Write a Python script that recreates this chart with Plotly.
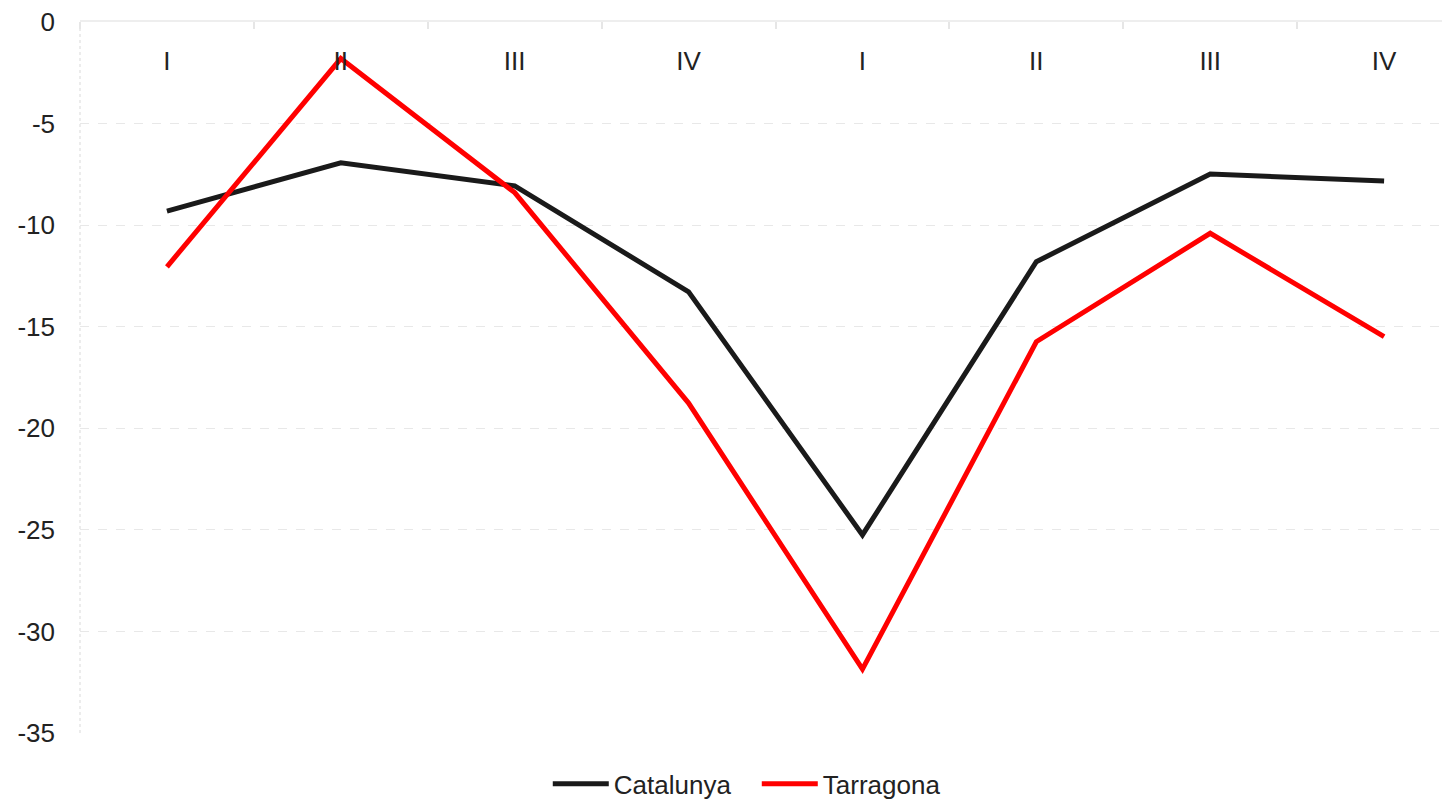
import plotly.graph_objects as go

quarters = ["I", "II", "III", "IV", "I", "II", "III", "IV"]
catalunya = [-9.31, -6.93, -8.07, -13.28, -25.25, -11.80, -7.48, -7.83]
tarragona = [-12.05, -1.80, -8.40, -18.76, -31.86, -15.74, -10.40, -15.49]
y_ticks = [0, -5, -10, -15, -20, -25, -30, -35]
y_tick_text = ["0", "-5", "-10", "-15", "-20", "-25", "-30", "-35"]

xpos = list(range(len(quarters)))
boundaries = [i - 0.5 for i in range(len(quarters) + 1)]
x_range = [-0.5, 7.379]

fig = go.Figure()
fig.add_trace(go.Scatter(x=xpos, y=catalunya, mode="lines", name="Catalunya",
                         line=dict(color="#1a1a1a", width=5)))
fig.add_trace(go.Scatter(x=xpos, y=tarragona, mode="lines", name="Tarragona",
                         line=dict(color="#ff0000", width=5)))

font_family = "Liberation Sans, Arial, sans-serif"
txt = "#222222"

fig.update_layout(
    width=1450, height=810,
    margin=dict(l=72, r=8, t=14, b=85),
    paper_bgcolor="white", plot_bgcolor="white",
    font=dict(family=font_family, size=26, color=txt),
    showlegend=True,
    legend=dict(orientation="h", x=0.494, xanchor="center", y=-0.0714, yanchor="middle",
                font=dict(size=26, color=txt), itemwidth=56, traceorder="normal",
                entrywidth=138, entrywidthmode="pixels",
                bgcolor="rgba(0,0,0,0)"),
    xaxis=dict(
        side="top", range=x_range, automargin=False,
        tickmode="array", tickvals=xpos, ticktext=quarters,
        ticks="", ticklabelposition="inside", ticklabelstandoff=32,
        ticklabeloverflow="allow",
        showgrid=False, zeroline=False,
        showline=True, linecolor="#eeeeee", linewidth=2,
        tickfont=dict(size=26, color=txt),
        minor=dict(tickvals=boundaries, ticks="inside", ticklen=7, tickcolor="#e6e6e6",
                   tickwidth=2, showgrid=False),
    ),
    yaxis=dict(
        range=[-35, 0], tickmode="array", tickvals=y_ticks, ticktext=y_tick_text,
        automargin=False, ticklabeloverflow="allow",
        showgrid=True, gridcolor="#e8e8e8", griddash="dash", gridwidth=1,
        zeroline=False, showline=False, ticks="", ticklabelstandoff=24,
        tickfont=dict(size=26, color=txt),
    ),
)

fig.add_shape(type="line", xref="x domain", yref="y domain", x0=0, x1=0, y0=0, y1=1,
              line=dict(color="#e6e6e6", width=1.5, dash="dot"), layer="below")

fig.write_html("out.html")
